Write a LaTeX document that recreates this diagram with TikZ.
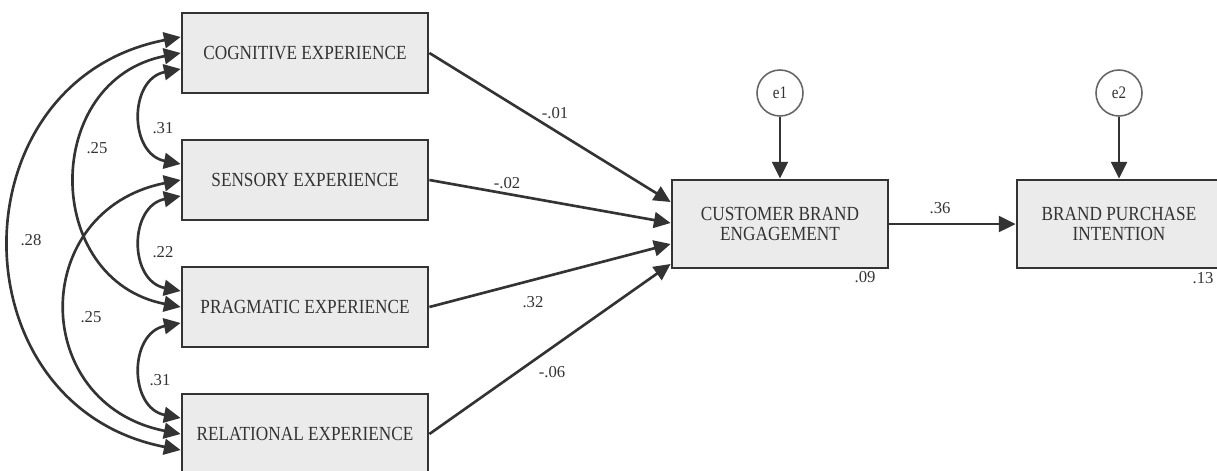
\documentclass[tikz,border=0pt]{standalone}
\usepackage{fontspec}
\setmainfont{Liberation Serif}
\newfontfamily\boxfont[FakeStretch=0.86]{Liberation Serif}
\usetikzlibrary{calc,arrows.meta}
\definecolor{linegray}{HTML}{333333}
\definecolor{boxfill}{HTML}{EBEBEB}
\definecolor{circgray}{HTML}{666666}

\begin{document}
\begin{tikzpicture}[x=0.02cm,y=-0.02cm,
    box/.style={draw=linegray,line width=1.6pt,fill=boxfill,minimum width=4.92cm,minimum height=1.6cm,
        font=\boxfont\fontsize{11.4}{11.4}\selectfont,text=linegray,align=center},
    errc/.style={circle,draw=circgray,line width=0.9pt,minimum size=0.92cm,inner sep=0pt,
        font=\boxfont\fontsize{10}{10}\selectfont,text=linegray},
    reg/.style={draw=linegray,line width=1.5pt,-{Triangle[length=9.5pt,width=9pt]}},
    cov/.style={draw=linegray,line width=1.5pt,{Triangle[length=9.5pt,width=9pt]}-{Triangle[length=9.5pt,width=9pt]}},
    coef/.style={inner sep=0pt,font=\rmfamily\fontsize{9.5}{10}\selectfont,text=linegray}]

        \useasboundingbox (0,0) rectangle (1217,470);
        \clip (0,0) rectangle (1217,470);

        % experience boxes
        \node[box] (cog)  at (305,53)  {COGNITIVE EXPERIENCE};
        \node[box] (sens) at (305,180) {SENSORY EXPERIENCE};
        \node[box] (prag) at (305,307) {PRAGMATIC EXPERIENCE};
        \node[box] (rel)  at (305,434) {RELATIONAL EXPERIENCE};

        % endogenous boxes and errors
        \node[box,minimum width=4.32cm,minimum height=1.76cm] (cbe) at (780,224) {CUSTOMER BRAND\\ENGAGEMENT};
        \node[box,minimum width=4.08cm,minimum height=1.76cm] (bpi) at (1119,224) {BRAND PURCHASE\\INTENTION};
        \node[errc] (e1) at (780,93)  {e1};
        \node[errc] (e2) at (1119,93) {e2};

        % covariances between the experiences
        \draw[cov] ($(cog.west)+(0,16)$) .. controls +(-52,10) and +(-52,-10) .. ($(sens.west)+(0,-16)$);
        \draw[cov] (cog.west) .. controls +(-139,27) and +(-139,-27) .. (prag.west);
        \draw[cov] ($(cog.west)+(0,-16)$) .. controls +(-227,44) and +(-227,-44) .. ($(rel.west)+(0,16)$);
        \draw[cov] ($(sens.west)+(0,16)$) .. controls +(-52,10) and +(-52,-10) .. ($(prag.west)+(0,-16)$);
        \draw[cov] (sens.west) .. controls +(-152,30) and +(-152,-30) .. (rel.west);
        \draw[cov] ($(prag.west)+(0,16)$) .. controls +(-52,10) and +(-52,-10) .. ($(rel.west)+(0,-16)$);

        % regression paths
        \draw[reg] (cog.east)  -- ($(cbe.west)+(0,-22)$);
        \draw[reg] (sens.east) -- ($(cbe.west)+(0,-1)$);
        \draw[reg] (prag.east) -- ($(cbe.west)+(0,20)$);
        \draw[reg] (rel.east)  -- ($(cbe.west)+(0,40)$);
        \draw[reg] (cbe) -- (bpi);
        \draw[reg] (e1) -- (cbe);
        \draw[reg] (e2) -- (bpi);

        % coefficients
        \node[coef] (r1) at (163,128) {.31};
        \node[coef] (r2) at (97,148)  {.25};
        \node[coef] (r3) at (31,240)  {.28};
        \node[coef] (r4) at (163,252) {.22};
        \node[coef] (r5) at (91,317)  {.25};
        \node[coef] (r6) at (160,380) {.31};
        \node[coef] (b1) at (555,113) {-.01};
        \node[coef] (b2) at (507,183) {-.02};
        \node[coef] (b3) at (533,302) {.32};
        \node[coef] (b4) at (552,372) {-.06};
        \node[coef] (b5) at (940,208) {.36};
        \node[coef] (q1) at (865,277) {.09};
        \node[coef] (q2) at (1203,278) {.13};
    \end{tikzpicture}
\end{document}
